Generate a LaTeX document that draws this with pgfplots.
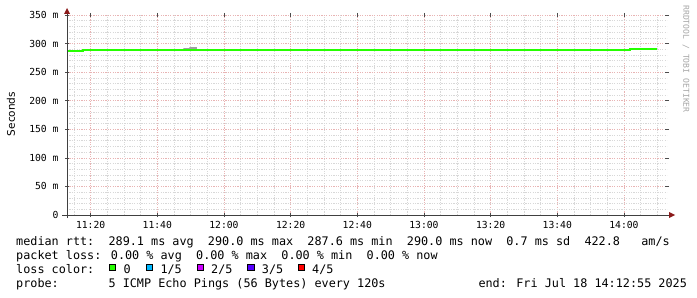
\documentclass[border=0pt]{standalone}
\usepackage{pgfplots}
\pgfplotsset{compat=1.18}
\usepackage{fontspec}
\setmainfont{DejaVu Sans Mono}
\newfontfamily\labelsans{DejaVu Sans}
\definecolor{rttgreen}{HTML}{26FF00}
\definecolor{smoke}{HTML}{A0A0A0}
\definecolor{lossone}{HTML}{00B8FF}
\definecolor{losstwo}{HTML}{CC00FF}
\definecolor{lossthree}{HTML}{5500FF}
\definecolor{lossfour}{HTML}{FF0000}
\definecolor{majgrid}{HTML}{E8B4B4}
\definecolor{mingrid}{HTML}{D8D8D8}
\definecolor{arrowred}{HTML}{8B1A1A}
\newcommand\legfont{\fontsize{11.8bp}{14bp}\selectfont}
\newcommand\tickfont{\fontsize{9.7bp}{11bp}\selectfont}

\begin{document}
\begin{tikzpicture}[x=1bp,y=1bp]
\useasboundingbox (0,0) rectangle (697,297);
\begin{axis}[
    at={(67bp,82bp)}, anchor=south west,
    scale only axis, width=600bp, height=200bp,
    xmin=12.917, xmax=192.917,
    ymin=0, ymax=350,
    axis line style={draw=none},
    xtick={20,40,...,180},
    xticklabels={11:20,11:40,12:00,12:20,12:40,13:00,13:20,13:40,14:00},
    minor xtick={15,25,30,35,45,50,55,65,70,75,85,90,95,105,110,115,125,130,135,145,150,155,165,170,175,185,190},
    ytick={0,50,...,350},
    yticklabels={0,50 m,100 m,150 m,200 m,250 m,300 m,350 m},
    minor ytick={10,20,30,40,60,70,80,90,110,120,130,140,160,170,180,190,210,220,230,240,260,270,280,290,310,320,330,340},
    grid=both,
    major grid style={majgrid, line width=0.6bp, dash pattern=on 1.2bp off 1.2bp},
    minor grid style={mingrid, line width=0.6bp, dash pattern=on 1.2bp off 1.2bp},
    major tick length=4bp, minor tick length=0bp, tick align=center,
    tick style={black!70, line width=0.6bp},
    ticklabel style={font=\tickfont},
    yticklabel style={xshift=-3bp},
    xticklabel style={yshift=-1bp},
    clip=false,
]
% smoke (ping spread) around the median
\addplot[fill=smoke, draw=none] coordinates {
    (47.8,289) (47.8,292.2) (49.6,292.2) (49.6,294.0) (51.9,294.0) (51.9,289)
};
% median rtt
\addplot[rttgreen, line width=2bp, const plot] coordinates {
    (12.917,287.6) (17.7,289.3) (147.8,287.9) (181.8,290.0) (189.8,290.0)
};
\end{axis}
% axes with rrdtool style arrows
\draw[black!75, line width=0.8bp] (62,82) -- (670,82);
\draw[black!75, line width=0.8bp] (67,79) -- (67,284);
\fill[arrowred] (669,79) -- (675,82) -- (669,85) -- cycle;
\fill[arrowred] (64,283) -- (67,289) -- (70,283) -- cycle;
% labels
\node[rotate=90, font=\labelsans\fontsize{10.5bp}{12bp}\selectfont] at (11,183) {Seconds};
\node[rotate=-90, text=black!35, font=\fontsize{8.1bp}{9bp}\selectfont] at (686,238) {RRDTOOL / TOBI OETIKER};
% legend
\begin{scope}[every node/.style={anchor=base west, inner sep=0pt, font=\legfont}]
\node at (16,51.5) {median rtt:~~289.1 ms avg~~290.0 ms max~~287.6 ms min~~290.0 ms now~~0.7 ms sd~~422.8~~~am/s};
\node at (16,37.7) {packet loss: 0.00 \% avg~~0.00 \% max~~0.00 \% min~~0.00 \% now};
\node at (16,23.7) {loss color:};
\node at (123.3,23.7) {0};
\node at (160.3,23.7) {1/5};
\node at (211,23.7) {2/5};
\node at (261.7,23.7) {3/5};
\node at (312,23.7) {4/5};
\node at (16,9.7) {probe:~~~~~~~5 ICMP Echo Pings (56 Bytes) every 120s};
\node at (478.3,9.7) {end: Fri Jul 18 14:12:55 2025};
\end{scope}
\filldraw[fill=rttgreen, draw=black, line width=0.8bp] (108.9,26.5) rectangle (115.5,33.1);
\filldraw[fill=lossone, draw=black, line width=0.8bp] (145.9,26.5) rectangle (152.5,33.1);
\filldraw[fill=losstwo, draw=black, line width=0.8bp] (196.9,26.5) rectangle (203.5,33.1);
\filldraw[fill=lossthree, draw=black, line width=0.8bp] (247.5,26.5) rectangle (254.1,33.1);
\filldraw[fill=lossfour, draw=black, line width=0.8bp] (297.9,26.5) rectangle (304.5,33.1);
\end{tikzpicture}
\end{document}
